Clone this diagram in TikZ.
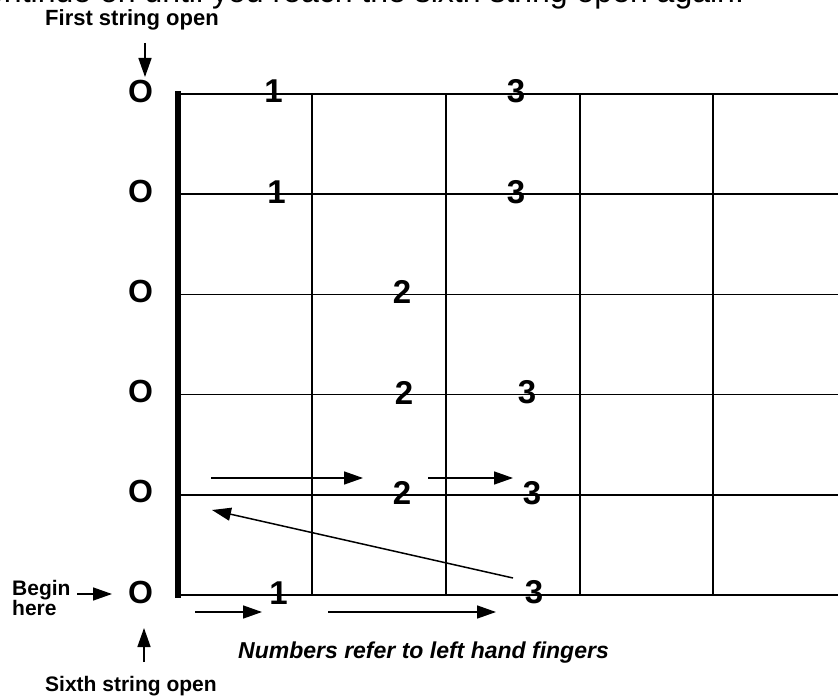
\documentclass[tikz,border=0pt]{standalone}
\usepackage{fontspec}
\setmainfont{Liberation Sans}
\usetikzlibrary{arrows.meta}

\begin{document}
\begin{tikzpicture}[
    x=1bp,y=-1bp,
    gstring/.style={line width=1.5bp,black},
    nut/.style={line width=5.5bp,black},
    heading/.style={font=\fontsize{32bp}{36bp}\selectfont,inner sep=0pt},
    openmark/.style={font=\fontsize{32bp}{34bp}\bfseries\selectfont,inner sep=0pt},
    finger/.style={font=\fontsize{33bp}{36bp}\bfseries\selectfont,inner sep=0pt},
    note/.style={font=\fontsize{21bp}{20bp}\bfseries\selectfont,inner sep=0pt},
    move/.style={-{Triangle[length=19bp,width=13bp]},line width=1.5bp}
]
\useasboundingbox (0,0) rectangle (838,698);

% heading, cut off by the page edge
\node[heading,anchor=base west] (heading) at (-30,2.5) {continue on until you reach the sixth string open again.};

% fretboard
\foreach \s in {1,...,6} {
  \coordinate (s\s) at (178,{94+100.2*(\s-1)});
  \draw[gstring] (s\s) -- ++(680,0);
  \node[openmark] (o\s) at (140.5,{91+100.2*(\s-1)}) {O};
}
\foreach \f in {312,446,580,713}
  \draw[gstring] (\f,94) -- (\f,595);
\draw[nut] (178,91) -- (178,597.5);

% fingers
\node[finger] (f1a) at (273.5,91.5) {1};
\node[finger] (f1b) at (516,91.5) {3};
\node[finger] (f2a) at (276.5,192) {1};
\node[finger] (f2b) at (516,192) {3};
\node[finger] (f3a) at (402,292) {2};
\node[finger] (f4a) at (404,392.5) {2};
\node[finger] (f4b) at (527,392.5) {3};
\node[finger] (f5a) at (402,493) {2};
\node[finger] (f5b) at (532,493) {3};
\node[finger] (f6a) at (278.5,593) {1};
\node[finger] (f6b) at (534,592) {3};

% labels
\node[note,anchor=base west,font=\fontsize{22bp}{20bp}\bfseries\selectfont] (firstlbl) at (45,26) {First string open};
\node[note,anchor=base west] (sixthlbl) at (45,691) {Sixth string open};
\node[note,anchor=north west,align=left] (beginlbl) at (12,580) {Begin\\here};
\node[note,anchor=base west,font=\fontsize{23bp}{20bp}\bfseries\itshape\selectfont] (fingerlbl) at (238,658) {Numbers refer to left hand fingers};

% arrows
\coordinate (firsttail) at (145,43);
\coordinate (firsttip) at (145,77);
\coordinate (sixthtail) at (144,662);
\coordinate (sixthtip) at (144,628);
\coordinate (begintail) at (77,594);
\coordinate (begintip) at (112,594);
\coordinate (m1s) at (195,612);
\coordinate (m1e) at (262,612);
\coordinate (m2s) at (328,612);
\coordinate (m2e) at (496,612);
\coordinate (m3s) at (513,578);
\coordinate (m3e) at (212,510);
\coordinate (m4s) at (211,478);
\coordinate (m4e) at (363,478);
\coordinate (m5s) at (428,478);
\coordinate (m5e) at (513,478);

\draw[move] (firsttail) -- (firsttip);
\draw[move] (sixthtail) -- (sixthtip);
\draw[move] (begintail) -- (begintip);
\draw[move] (m1s) -- (m1e);
\draw[move] (m2s) -- (m2e);
\draw[move] (m3s) -- (m3e);
\draw[move] (m4s) -- (m4e);
\draw[move] (m5s) -- (m5e);
\end{tikzpicture}
\end{document}
